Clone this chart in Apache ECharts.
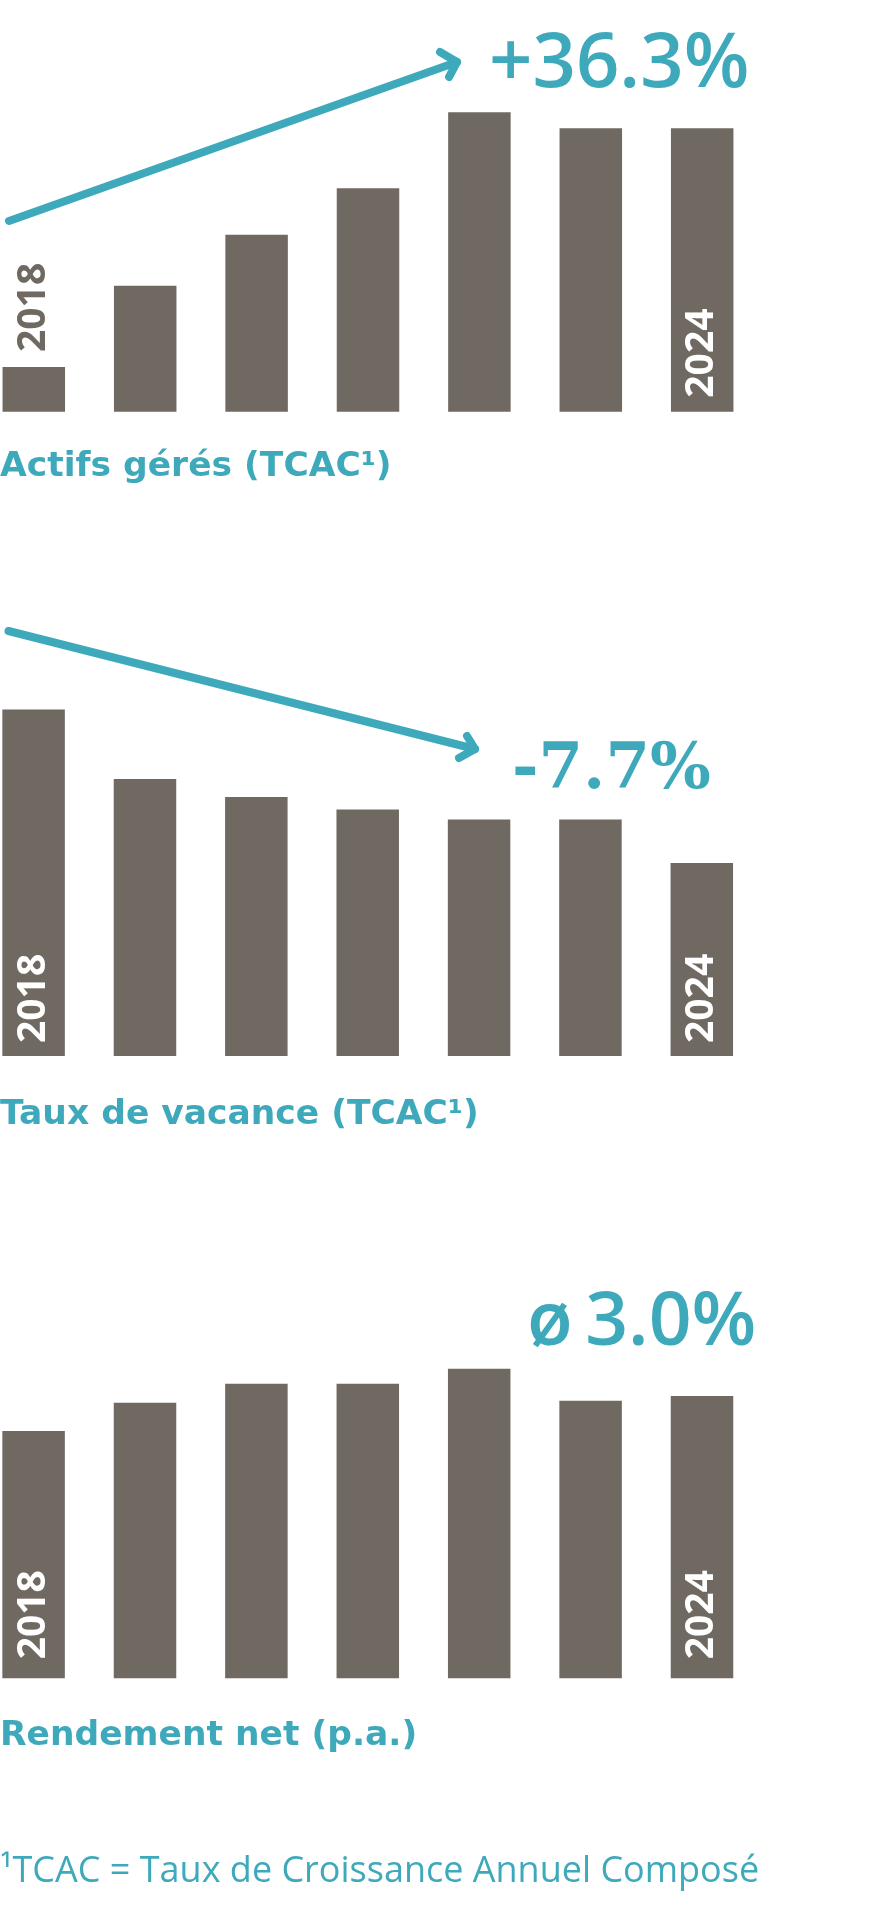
<!DOCTYPE html>
<html><head><meta charset="utf-8">
<script src="https://cdn.jsdelivr.net/npm/echarts@6/dist/echarts.min.js"></script>
<style>html,body{margin:0;padding:0;background:#fff}#c{width:889px;height:1920px}</style>
</head><body><div id="c"></div>
<script>
const years = ['2018', '2019', '2020', '2021', '2022', '2023', '2024'];
const actifsGeres = [1.0, 2.82, 3.96, 5.0, 6.70, 6.34, 6.34];
const tauxVacance = [6.93, 5.54, 5.18, 4.93, 4.73, 4.73, 3.86];
const rendementNet = [2.62, 2.92, 3.12, 3.12, 3.28, 2.94, 2.99];
const titles = ['Actifs gérés (TCAC¹)', 'Taux de vacance (TCAC¹)', 'Rendement net (p.a.)'];
const keyFigures = ['+36.3%', '-7.7%', 'ø\u20093.0%'];
const footnote = '¹TCAC = Taux de Croissance Annuel Composé';

const TEAL = '#3fa9bc';
const BAR = '#706962';

function mkData(vals, firstOnTop, dist) {
  return vals.map((v, i) => {
    const edge = i === 0 || i === vals.length - 1;
    const onTop = firstOnTop && i === 0;
    return {
      value: v,
      label: {
        show: edge,
        formatter: years[i],
        position: onTop ? 'top' : 'insideBottom',
        distance: onTop ? 15 : dist,
        color: onTop ? BAR : '#ffffff'
      }
    };
  });
}

const grids = [
  { left: 33.8, width: 668.4, top: 9.4, height: 402.3, outerBoundsMode: 'none' },
  { left: 33.6, width: 668.2, top: 656, height: 400, outerBoundsMode: 'none' },
  { left: 33.6, width: 668.4, top: 1300.7, height: 377.6, outerBoundsMode: 'none' }
];
const maxes = [9, 8, 4];
const seriesVals = [actifsGeres, tauxVacance, rendementNet];
const dists = [14, 13, 19];

const chart = echarts.init(document.getElementById('c'), null, { renderer: 'canvas' });

function txt(x, y, text, font, color) {
  return { type: 'text', x: x, y: y, style: { text: text, font: font, fill: color, align: 'left', verticalAlign: 'middle', textAlign: 'left', textVerticalAlign: 'middle' } };
}
function line(points) {
  return { type: 'polyline', shape: { points: points }, style: { stroke: TEAL, lineWidth: 8, lineCap: 'round', lineJoin: 'round', fill: null } };
}

chart.setOption({
  animation: false,
  backgroundColor: '#ffffff',
  grid: grids,
  xAxis: grids.map((g, i) => ({ type: 'category', gridIndex: i, data: years, show: false, boundaryGap: false })),
  yAxis: grids.map((g, i) => ({ type: 'value', gridIndex: i, min: 0, max: maxes[i], show: false, splitLine: { show: false } })),
  series: seriesVals.map((vals, i) => ({
    type: 'bar',
    xAxisIndex: i,
    yAxisIndex: i,
    barWidth: 62.5,
    clip: false,
    itemStyle: { color: BAR },
    label: { rotate: 90, align: 'left', verticalAlign: 'middle', fontFamily: 'Open Sans', fontWeight: 'bold', fontSize: 39 },
    data: mkData(vals, i === 0, dists[i])
  })),
  graphic: [
    line([[9, 221], [457, 62]]),
    line([[440, 52], [457, 62], [449, 77]]),
    line([[8.5, 631], [475, 749]]),
    line([[467, 736], [475, 749], [459, 758]]),
    txt(489, 65, keyFigures[0], '600 76px "Open Sans"', TEAL),
    txt(512, 771.4, keyFigures[1], 'bold 64px "DejaVu Serif"', TEAL),
    txt(527, 1323.4, keyFigures[2], '600 75px "Open Sans"', TEAL),
    txt(0, 467.5, titles[0], 'bold 34.5px "DejaVu Sans"', TEAL),
    txt(0, 1115.3, titles[1], 'bold 34.5px "DejaVu Sans"', TEAL),
    txt(0, 1736, titles[2], 'bold 34.5px "DejaVu Sans"', TEAL),
    txt(0, 1871.3, footnote, '400 36px "Open Sans"', TEAL)
  ]
});
</script></body></html>
